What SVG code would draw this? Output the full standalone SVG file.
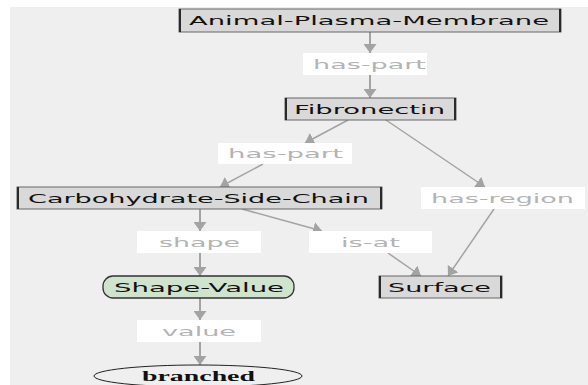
<svg xmlns="http://www.w3.org/2000/svg" width="588" height="385" viewBox="0 0 588 385">
<style>
.bg{fill:#efefef}
.box{fill:#d9d9d9;stroke:#666;stroke-width:1}
.edge{stroke:#2a2a2a;stroke-width:2}
.lbl{fill:#ffffff}
.nt{font-family:"DejaVu Sans",Verdana,sans-serif;font-size:13px;fill:#111}
.lt{font-family:"DejaVu Sans",Verdana,sans-serif;font-size:13px;fill:#b3b3b3}
.con line{stroke:#a3a3a3;fill:none}
.v{stroke-width:2}
.d{stroke-width:1.5}
</style>
<defs>
<marker id="ah" viewBox="0 0 10 10" refX="10" refY="5" markerWidth="9" markerHeight="13" markerUnits="userSpaceOnUse" orient="auto" preserveAspectRatio="none">
<path d="M0,0 L10,5 L0,10 z" fill="#a3a3a3"/>
</marker>
</defs>
<rect x="0" y="0" width="588" height="385" fill="#ffffff"/>
<rect class="bg" x="10" y="7" width="578" height="378"/>

<g id="connectors" class="con">
<line class="v" x1="370" y1="32" x2="370" y2="53" marker-end="url(#ah)"/>
<line class="v" x1="370" y1="75" x2="370" y2="98" marker-end="url(#ah)"/>
<line class="d" x1="348" y1="120" x2="305" y2="143" marker-end="url(#ah)"/>
<line class="d" x1="386" y1="120" x2="485" y2="187" marker-end="url(#ah)"/>
<line class="d" x1="263" y1="164" x2="220" y2="187" marker-end="url(#ah)"/>
<line class="v" x1="200" y1="209" x2="200" y2="231" marker-end="url(#ah)"/>
<line class="d" x1="242" y1="209" x2="322" y2="231" marker-end="url(#ah)"/>
<line class="d" x1="494" y1="209" x2="448" y2="276" marker-end="url(#ah)"/>
<line class="v" x1="200" y1="253" x2="200" y2="276" marker-end="url(#ah)"/>
<line class="d" x1="388" y1="253" x2="421" y2="276" marker-end="url(#ah)"/>
<line class="v" x1="200" y1="298" x2="200" y2="320" marker-end="url(#ah)"/>
<line class="v" x1="200" y1="342" x2="200" y2="365" marker-end="url(#ah)"/>
</g>

<g id="n-apm">
<rect class="box" x="179" y="9" width="382" height="23"/>
<line class="edge" x1="180" y1="9" x2="180" y2="32"/><line class="edge" x1="560" y1="9" x2="560" y2="32"/>
<text class="nt" x="189" y="25" textLength="360" lengthAdjust="spacingAndGlyphs">Animal-Plasma-Membrane</text>
</g>
<g id="l-haspart1">
<rect class="lbl" x="303" y="53" width="124" height="22"/>
<text class="lt" x="313" y="68.5" textLength="113" lengthAdjust="spacingAndGlyphs">has-part</text>
</g>
<g id="n-fib">
<rect class="box" x="285" y="98" width="171" height="22"/>
<line class="edge" x1="286" y1="98" x2="286" y2="120"/><line class="edge" x1="455" y1="98" x2="455" y2="120"/>
<text class="nt" x="294" y="114" textLength="151" lengthAdjust="spacingAndGlyphs">Fibronectin</text>
</g>
<g id="l-haspart2">
<rect class="lbl" x="218" y="143" width="134" height="21"/>
<text class="lt" x="228" y="158" textLength="115" lengthAdjust="spacingAndGlyphs">has-part</text>
</g>
<g id="n-csc">
<rect class="box" x="17" y="187" width="365" height="22"/>
<line class="edge" x1="18" y1="187" x2="18" y2="209"/><line class="edge" x1="381" y1="187" x2="381" y2="209"/>
<text class="nt" x="28" y="203" textLength="341" lengthAdjust="spacingAndGlyphs">Carbohydrate-Side-Chain</text>
</g>
<g id="l-hasregion">
<rect class="lbl" x="421" y="187" width="164" height="22"/>
<text class="lt" x="431" y="203" textLength="143" lengthAdjust="spacingAndGlyphs">has-region</text>
</g>
<g id="l-shape">
<rect class="lbl" x="137" y="231" width="124" height="22"/>
<text class="lt" x="159" y="247" textLength="81" lengthAdjust="spacingAndGlyphs">shape</text>
</g>
<g id="l-isat">
<rect class="lbl" x="309" y="231" width="123" height="22"/>
<text class="lt" x="341" y="247" textLength="59" lengthAdjust="spacingAndGlyphs">is-at</text>
</g>
<g id="n-shapevalue">
<rect x="103" y="276" width="191" height="22" rx="10" ry="10" fill="#d0e4cd" stroke="#333" stroke-width="1.3"/>
<text class="nt" x="114" y="292" textLength="170" lengthAdjust="spacingAndGlyphs">Shape-Value</text>
</g>
<g id="n-surface">
<rect class="box" x="379" y="276" width="123" height="22"/>
<line class="edge" x1="380" y1="276" x2="380" y2="298"/><line class="edge" x1="501" y1="276" x2="501" y2="298"/>
<text class="nt" x="388" y="292" textLength="103" lengthAdjust="spacingAndGlyphs">Surface</text>
</g>
<g id="l-value">
<rect class="lbl" x="137" y="320" width="124" height="22"/>
<text class="lt" x="162" y="336" textLength="74" lengthAdjust="spacingAndGlyphs">value</text>
</g>
<g id="n-branched">
<ellipse cx="198" cy="376" rx="104" ry="11" fill="none" stroke="#222" stroke-width="1"/>
<text x="142" y="381" textLength="113" lengthAdjust="spacingAndGlyphs" font-family="'Liberation Serif',serif" font-size="14" font-weight="bold" fill="#111">branched</text>
</g>
</svg>
